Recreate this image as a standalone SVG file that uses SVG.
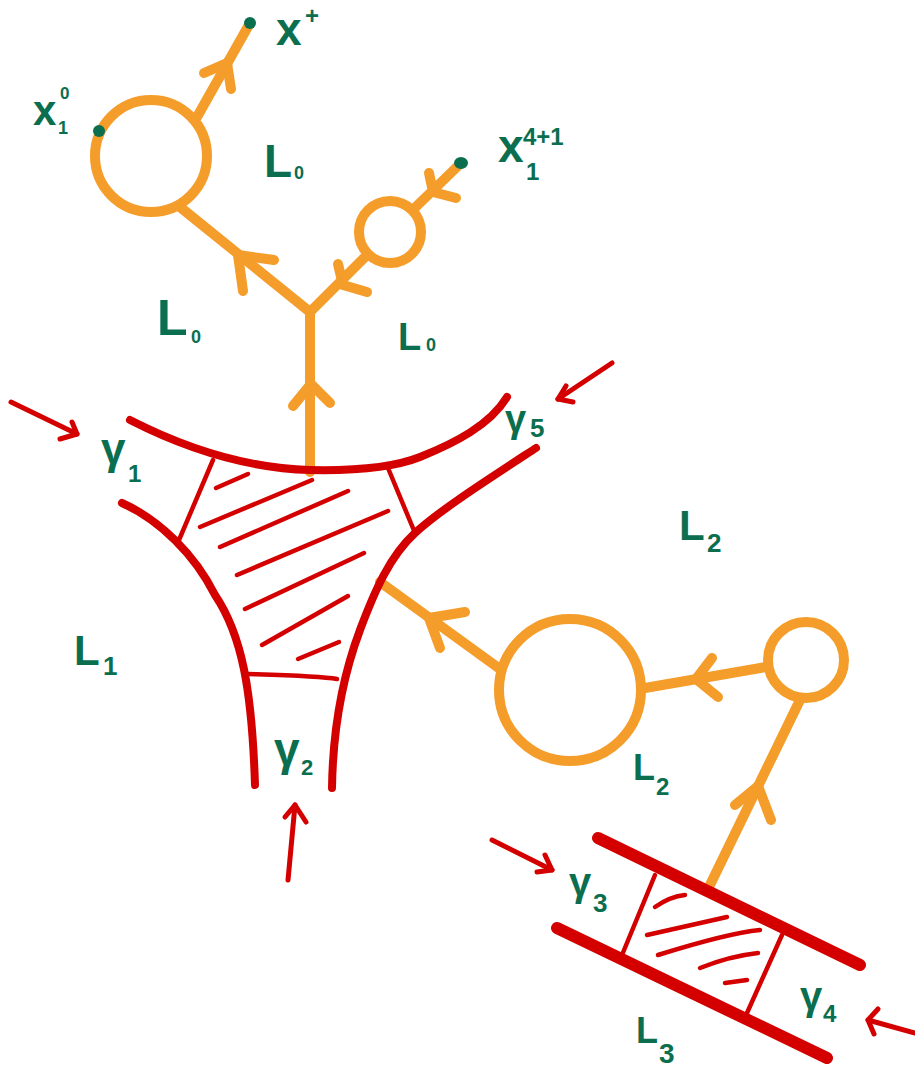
<svg xmlns="http://www.w3.org/2000/svg" width="915" height="1068" viewBox="0 0 915 1068">
<style>
.o{fill:none;stroke:#F59D2A;stroke-width:10;stroke-linecap:round;stroke-linejoin:round}
.oc{fill:#fff;stroke:#F59D2A;stroke-width:10}
.r{fill:none;stroke:#D40000;stroke-width:8;stroke-linecap:round;stroke-linejoin:round}
.rt{fill:none;stroke:#D40000;stroke-width:4.5;stroke-linecap:round}
.rb{fill:none;stroke:#D40000;stroke-width:12;stroke-linecap:round}
.ra{fill:none;stroke:#D40000;stroke-width:5;stroke-linecap:round;stroke-linejoin:round}
.dot{fill:#0B6E4F}
.t{fill:#0B6E4F;font-family:"Liberation Sans",Arial,sans-serif;font-weight:bold}
</style>
<rect width="915" height="1068" fill="#fff"/>

<g id="connectors">
  <path class="o" d="M250,23 L197,117"/>
  <path class="o" d="M204,73 L227,63 L231,89"/>
  <path class="o" d="M310,472 L310,312"/>
  <path class="o" d="M293,406 L311,384 L330,403"/>
  <path class="o" d="M310,312 L180,207"/>
  <path class="o" d="M243,291 L238,255 L274,260"/>
  <path class="o" d="M310,312 L390,232"/>
  <path class="o" d="M338,264 L343,285 L367,292"/>
  <path class="o" d="M390,232 L461,163"/>
  <path class="o" d="M429,173 L433,192 L456,198"/>
  <path class="o" d="M380,582 L500,669"/>
  <path class="o" d="M465,612 L429,618 L440,648"/>
  <path class="o" d="M645,688 L766,667"/>
  <path class="o" d="M712,658 L696,679 L718,697"/>
  <path class="o" d="M800,700 L710,885"/>
  <path class="o" d="M735,805 L758,786 L771,820"/>
</g>

<g id="red-arrows">
  <path class="ra" d="M11,402 L77,434"/><path class="ra" d="M60,439 L77,434 L72,422"/>
  <path class="ra" d="M612,363 L558,399"/><path class="ra" d="M566,386 L558,399 L573,402"/>
  <path class="ra" d="M288,880 L295,805"/><path class="ra" d="M285,817 L295,805 L306,822"/>
  <path class="ra" d="M492,840 L552,870"/><path class="ra" d="M545,855 L552,870 L537,872"/>
  <path class="ra" d="M915,1033 L868,1020"/><path class="ra" d="M878,1009 L868,1020 L874,1034"/>
</g>

<g id="pants">
  <path class="r" d="M130,420 C175,443 240,468 310,470 C360,471 395,467 420,457 C455,443 490,425 507,397"/>
  <path class="r" d="M122,503 C160,520 195,555 215,595 C242,635 252,690 255,785"/>
  <path class="r" d="M536,448 C490,478 440,510 415,533 C390,556 375,590 360,630 C345,670 333,720 332,788"/>
  <path class="rt" d="M213,460 L179,540"/>
  <path class="rt" d="M388,468 L415,533"/>
  <path class="rt" d="M248,674 C280,675 320,676 337,679"/>
  <path class="rt" d="M216,488 L248,474"/>
  <path class="rt" d="M200,527 L312,480"/>
  <path class="rt" d="M220,547 L348,491"/>
  <path class="rt" d="M237,575 L388,511"/>
  <path class="rt" d="M245,609 L364,553"/>
  <path class="rt" d="M262,645 L348,596"/>
  <path class="rt" d="M298,659 L339,642"/>
</g>

<g id="strip">
  <path class="rb" d="M598,838 L860,965"/>
  <path class="rb" d="M557,928 L827,1058"/>
  <path class="rt" d="M655,875 L622,955"/>
  <path class="rt" d="M782,935 L747,1013"/>
  <path class="rt" d="M655,907 C665,900 675,896 685,895"/>
  <path class="rt" d="M647,935 L727,917"/>
  <path class="rt" d="M658,955 C690,945 730,933 760,930"/>
  <path class="rt" d="M700,968 C720,960 740,955 758,953"/>
  <path class="rt" d="M725,983 L747,980"/>
</g>

<g id="circle-big-top"><circle class="oc" cx="151" cy="156" r="56"/></g>
<g id="circle-small-top"><circle class="oc" cx="390" cy="232" r="31"/></g>
<g id="circle-big-right"><circle class="oc" cx="570" cy="690" r="71"/></g>
<g id="circle-small-right"><circle class="oc" cx="806" cy="660" r="38"/></g>

<g id="dot-xplus"><circle class="dot" cx="250" cy="23" r="6"/></g>
<g id="dot-x10"><circle class="dot" cx="99" cy="131" r="6"/></g>
<g id="dot-x1q"><ellipse class="dot" cx="461" cy="163" rx="7" ry="6"/></g>

<g id="labels">
  <text class="t" font-size="46" x="276" y="45">x</text>
  <text class="t" font-size="24" x="305" y="24">+</text>

  <text class="t" font-size="42" x="33" y="125">x</text>
  <text class="t" font-size="18" x="58" y="134">1</text>
  <text class="t" font-size="17" x="60" y="99">0</text>

  <text class="t" font-size="46" x="498" y="162">x</text>
  <text class="t" font-size="24" x="523" y="145">4+1</text>
  <text class="t" font-size="24" x="526" y="180">1</text>

  <text class="t" font-size="46" x="264" y="177">L</text>
  <text class="t" font-size="18" x="294" y="179">0</text>

  <text class="t" font-size="50" x="157" y="335">L</text>
  <text class="t" font-size="18" x="191" y="343">0</text>

  <text class="t" font-size="38" x="398" y="350">L</text>
  <text class="t" font-size="18" x="426" y="351">0</text>

  <text class="t" font-size="44" x="101" y="464">γ</text>
  <text class="t" font-size="24" x="128" y="482">1</text>

  <text class="t" font-size="38" x="505" y="432">γ</text>
  <text class="t" font-size="26" x="530" y="437">5</text>

  <text class="t" font-size="46" x="274" y="765">γ</text>
  <text class="t" font-size="22" x="301" y="775">2</text>

  <text class="t" font-size="40" x="569" y="896">γ</text>
  <text class="t" font-size="26" x="593" y="912">3</text>

  <text class="t" font-size="40" x="800" y="1010">γ</text>
  <text class="t" font-size="24" x="823" y="1022">4</text>

  <text class="t" font-size="42" x="74" y="665">L</text>
  <text class="t" font-size="26" x="103" y="675">1</text>

  <text class="t" font-size="42" x="679" y="540">L</text>
  <text class="t" font-size="26" x="707" y="552">2</text>

  <text class="t" font-size="36" x="633" y="780">L</text>
  <text class="t" font-size="24" x="656" y="795">2</text>

  <text class="t" font-size="36" x="636" y="1043">L</text>
  <text class="t" font-size="28" x="659" y="1063">3</text>
</g>
</svg>
